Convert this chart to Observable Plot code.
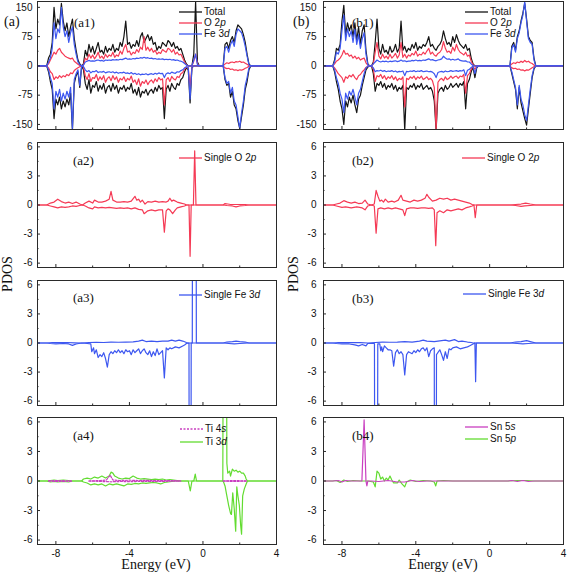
<!DOCTYPE html>
<html><head><meta charset="utf-8">
<script src="https://cdn.jsdelivr.net/npm/d3@7"></script>
<script src="https://cdn.jsdelivr.net/npm/@observablehq/plot@0.6"></script>
<style>
body{margin:0;background:#fff;}
#fig{position:relative;width:567px;height:575px;overflow:hidden;background:#fff;font-family:"Liberation Sans",Arial,sans-serif;}
.lab{position:absolute;font-family:"Liberation Serif","Times New Roman",serif;color:#111;white-space:nowrap;line-height:1;}
.leg{position:absolute;display:flex;align-items:center;font-size:10px;height:12px;line-height:12px;white-space:nowrap;color:#111;}
#fig .leg svg.sw{position:static;display:block;margin-right:2px;flex:none;}
</style></head><body><div id="fig"></div>
<script>
// ---------- shared energy grid for (a1) and (b1) ----------
const gridE = [
-9,
-8.5,-8.4,-8.3,-8.2,-8.1,-8.0,-7.9,-7.8,-7.7,-7.6,
-7.5,-7.4,-7.3,-7.2,-7.1,-7.0,-6.9,-6.8,-6.7,-6.6,
-6.5,-6.4,-6.3,-6.2,-6.1,-6.0,-5.9,-5.8,-5.7,-5.6,
-5.5,-5.4,-5.3,-5.2,-5.1,-5.0,-4.9,-4.8,-4.7,-4.6,
-4.5,-4.4,-4.3,-4.2,-4.1,-4.0,-3.9,-3.8,-3.7,-3.6,
-3.5,-3.4,-3.3,-3.2,-3.1,-3.0,-2.9,-2.8,-2.7,-2.6,
-2.5,-2.4,-2.3,-2.2,-2.1,-2.0,-1.9,-1.8,-1.7,-1.6,
-1.5,-1.4,-1.3,-1.2,-1.1,-1.0,-0.9,-0.8,-0.7,-0.6,
-0.5,-0.4,-0.3,-0.2,
1.0,1.1,1.2,1.3,1.4,1.5,1.6,1.7,1.8,1.9,
2.0,2.1,2.2,2.3,2.4,2.5,2.6,
4];

// ---------- (a1) ----------
const a1TotalUp = [0,
0,20,30,60,150,95,120,105,160,115,
90,110,75,100,120,70,40,15,5,0,
5,40,25,55,35,50,30,45,60,35,
40,30,50,35,45,40,55,35,45,40,
60,50,75,115,55,60,45,55,50,65,
50,75,85,60,70,80,65,75,55,60,
40,50,45,60,55,50,65,60,50,60,
45,50,40,45,30,15,5,0,0,0,
30,165,10,0,
0,0,55,60,45,65,75,60,90,105,
100,95,80,60,30,5,0,
0];
const a1TotalDn = [0,
0,-15,-40,-60,-135,-85,-100,-80,-110,-90,
-105,-85,-100,-70,-165,-45,-25,-15,-55,0,
-10,-45,-60,-35,-70,-50,-55,-40,-65,-50,
-60,-45,-70,-55,-50,-65,-45,-60,-50,-70,
-55,-60,-50,-65,-55,-60,-45,-70,-60,-75,
-55,-80,-65,-70,-60,-75,-65,-60,-70,-55,
-65,-50,-60,-55,-135,-60,-50,-65,-45,-55,
-60,-45,-50,-35,-30,-15,-5,-10,-95,-5,
0,0,0,0,
0,0,-35,-50,-45,-80,-65,-100,-110,-140,
-160,-130,-100,-60,-40,-10,0,
0];
const a1O2pUp = [0,
0,5,15,25,35,30,40,45,35,30,
25,22,20,18,20,12,8,4,1,0,
2,20,15,30,20,28,18,25,35,20,
25,18,30,22,28,25,35,22,28,25,
38,30,45,55,35,38,28,35,32,42,
35,48,42,75,40,48,38,45,35,40,
30,35,32,42,38,35,45,42,35,42,
30,35,28,30,20,10,3,0,0,0,
12,30,5,0,
0,0,5,8,6,9,10,8,11,10,
12,9,10,7,4,1,0,
0];
const a1O2pDn = [0,
0,-5,-15,-20,-35,-28,-32,-25,-30,-25,
-28,-22,-25,-18,-20,-12,-8,-5,-2,0,
-3,-25,-35,-20,-40,-30,-32,-22,-38,-28,
-35,-25,-42,-32,-28,-38,-25,-35,-28,-42,
-32,-36,-28,-40,-32,-36,-26,-42,-36,-48,
-33,-52,-40,-45,-36,-48,-40,-36,-44,-33,
-40,-30,-36,-33,-100,-36,-30,-40,-27,-33,
-36,-27,-30,-20,-17,-8,-3,-5,-55,-2,
0,0,0,0,
0,0,-5,-7,-6,-9,-8,-11,-10,-12,
-10,-11,-9,-6,-4,-1,0,
0];
const a1FeUp = [0,
0,10,20,45,110,70,95,85,150,100,
75,90,60,85,100,55,30,10,3,0,
2,10,12,14,12,13,12,14,15,13,
14,12,15,14,15,14,16,15,16,15,
17,16,18,20,17,18,17,19,18,20,
19,21,20,22,20,21,19,20,18,19,
17,18,17,18,16,17,16,17,15,16,
14,15,13,12,10,6,2,0,0,0,
15,30,3,0,
0,0,45,50,35,55,65,50,80,95,
90,85,70,50,25,3,0,
0];
const a1FeDn = [0,
0,-10,-30,-45,-110,-65,-80,-60,-90,-70,
-85,-65,-80,-55,-160,-35,-20,-10,-50,0,
-2,-10,-15,-12,-18,-14,-15,-12,-17,-15,
-16,-14,-18,-16,-15,-17,-15,-18,-16,-19,
-17,-18,-16,-19,-18,-20,-17,-21,-19,-22,
-20,-23,-21,-22,-20,-23,-21,-20,-22,-19,
-21,-18,-20,-19,-30,-20,-18,-20,-16,-18,
-19,-15,-16,-12,-10,-5,-2,-5,-85,-3,
0,0,0,0,
0,0,-30,-45,-40,-70,-55,-90,-100,-130,
-160,-120,-90,-50,-30,-5,0,
0];

// ---------- (b1) ----------
const b1TotalUp = [0,
0,15,45,40,55,115,155,80,110,90,
105,75,110,65,100,55,90,105,40,5,
0,0,10,60,120,45,30,55,35,40,
30,50,35,40,55,35,45,115,40,50,
35,45,40,55,45,60,40,50,45,55,
50,60,75,50,55,45,40,50,55,65,
90,70,55,60,50,75,60,80,65,55,
50,45,55,40,45,20,5,0,0,0,
0,0,0,0,
0,0,50,60,40,75,90,115,135,160,
120,75,65,60,20,0,0,
0];
const b1TotalDn = [0,
0,-15,-40,-60,-90,-110,-150,-90,-105,-80,
-95,-75,-100,-120,-85,-75,-50,-30,-10,-3,
0,0,-20,-65,-45,-50,-40,-55,-45,-60,
-50,-55,-45,-60,-50,-65,-55,-60,-50,-165,
-55,-60,-50,-55,-45,-60,-50,-55,-45,-60,
-55,-50,-60,-55,-65,-90,-165,-70,-60,-55,
-65,-50,-60,-55,-45,-55,-50,-45,-55,-45,
-50,-40,-110,-45,-35,-15,-3,-30,-5,0,
0,0,0,0,
0,0,-20,-40,-60,-110,-55,-95,-115,-135,
-152,-110,-70,-30,-8,0,0,
0];
const b1O2pUp = [0,
0,5,12,15,20,28,40,30,32,25,
28,20,25,18,22,15,18,20,8,2,
0,0,5,35,60,25,18,30,20,25,
18,30,20,25,32,20,28,60,22,30,
20,28,25,32,28,38,25,30,28,35,
30,38,45,30,35,28,25,32,35,42,
62,45,35,38,32,48,38,55,42,35,
32,28,35,25,28,12,3,0,0,0,
0,0,0,0,
0,0,5,8,6,10,8,12,9,14,
10,12,8,6,2,0,0,
0];
const b1O2pDn = [0,
0,-5,-12,-20,-25,-30,-42,-28,-32,-24,
-28,-22,-30,-35,-25,-22,-15,-10,-4,-1,
0,0,-8,-40,-25,-28,-22,-32,-25,-35,
-28,-32,-25,-35,-28,-38,-32,-35,-28,-105,
-32,-35,-28,-32,-26,-35,-28,-32,-26,-35,
-32,-28,-35,-32,-38,-55,-165,-42,-35,-32,
-38,-28,-35,-32,-26,-32,-28,-26,-32,-26,
-28,-22,-70,-25,-20,-8,-2,-8,-2,0,
0,0,0,0,
0,0,-5,-7,-6,-9,-8,-11,-10,-13,
-10,-11,-8,-5,-2,0,0,
0];
const b1FeUp = [0,
0,10,35,30,45,90,130,65,95,75,
90,60,95,55,80,45,70,85,30,3,
0,0,5,10,15,12,10,12,11,12,
10,12,11,12,13,11,12,15,12,13,
11,12,12,14,13,15,13,14,13,15,
14,16,18,15,16,14,13,15,16,18,
25,20,17,18,15,17,15,16,18,14,
13,12,13,10,10,5,1,0,0,0,
0,0,0,0,
0,0,45,55,35,70,85,110,130,165,
115,70,60,55,15,0,0,
0];
const b1FeDn = [0,
0,-10,-30,-45,-70,-85,-120,-70,-85,-65,
-75,-60,-80,-100,-70,-60,-40,-20,-5,-1,
0,0,-5,-15,-12,-13,-11,-14,-12,-15,
-13,-14,-12,-15,-13,-16,-14,-15,-13,-25,
-14,-15,-13,-14,-12,-15,-13,-14,-12,-15,
-14,-13,-15,-14,-16,-20,-30,-17,-15,-14,
-16,-13,-15,-14,-12,-14,-13,-12,-14,-12,
-13,-10,-25,-11,-9,-4,-1,-20,-3,0,
0,0,0,0,
0,0,-15,-35,-55,-100,-50,-85,-100,-125,
-140,-100,-60,-25,-5,0,0,
0];

// ---------- (a2) single O 2p ----------
const a2Up = [[-9,0],[-8.5,0],[-8.3,0.2],[-8.1,0.3],[-7.9,0.6],[-7.7,0.35],[-7.5,0.2],[-7.3,0.3],[-7.1,0.15],[-6.9,0.3],[-6.7,0.1],[-6.55,0],[-6.4,0.2],[-6.2,0.4],[-6.0,0.2],[-5.9,0.5],[-5.7,0.3],[-5.5,0.3],[-5.3,0.4],[-5.1,0.6],[-5.0,1.4],[-4.9,0.5],[-4.7,0.3],[-4.5,0.3],[-4.3,0.35],[-4.1,0.3],[-3.9,0.4],[-3.7,0.9],[-3.6,0.5],[-3.5,0.6],[-3.4,0.3],[-3.3,0.5],[-3.15,0.1],[-3.0,0.35],[-2.8,0.3],[-2.6,0.4],[-2.4,0.3],[-2.2,0.35],[-2.0,0.3],[-1.9,0.4],[-1.8,0.7],[-1.7,0.4],[-1.6,0.5],[-1.4,0.3],[-1.2,0.2],[-1.0,0.1],[-0.9,0],[-0.52,0],[-0.45,5.6],[-0.38,0],[1.1,0],[1.2,0.15],[1.35,0.1],[1.5,0.05],[1.7,0.05],[2.0,0.05],[2.3,0.05],[2.5,0],[4,0]];
const a2Dn = [[-9,0],[-8.5,0],[-8.3,-0.1],[-8.1,-0.2],[-7.9,-0.3],[-7.7,-0.2],[-7.5,-0.25],[-7.3,-0.2],[-7.1,-0.1],[-6.9,-0.15],[-6.7,-0.05],[-6.55,0],[-6.4,-0.1],[-6.2,-0.3],[-6.0,-0.4],[-5.9,-0.2],[-5.7,-0.3],[-5.5,-0.25],[-5.3,-0.3],[-5.1,-0.25],[-4.9,-0.3],[-4.7,-0.35],[-4.5,-0.3],[-4.3,-0.35],[-4.1,-0.3],[-3.9,-0.4],[-3.7,-0.3],[-3.5,-0.45],[-3.3,-0.5],[-3.2,-0.9],[-3.0,-0.6],[-2.8,-0.5],[-2.6,-0.6],[-2.4,-0.5],[-2.2,-0.5],[-2.1,-2.8],[-2.0,-0.6],[-1.9,-0.4],[-1.8,-0.5],[-1.65,-0.9],[-1.5,-0.5],[-1.4,-0.3],[-1.2,-0.2],[-1.0,-0.1],[-0.9,0],[-0.76,0],[-0.7,-5.3],[-0.64,0],[1.1,0],[1.3,-0.05],[1.6,-0.1],[1.8,-0.2],[2.0,-0.1],[2.3,-0.05],[2.5,0],[4,0]];

// ---------- (b2) single O 2p ----------
const b2Up = [[-9,0],[-8.5,0],[-8.3,0.1],[-8.1,0.2],[-7.9,0.45],[-7.7,0.3],[-7.5,0.2],[-7.3,0.3],[-7.1,0.15],[-6.9,0.2],[-6.75,0.5],[-6.6,0.1],[-6.4,0],[-6.25,0.1],[-6.15,1.5],[-6.05,0.9],[-5.95,0.4],[-5.85,0.5],[-5.75,0.3],[-5.65,0.6],[-5.5,0.3],[-5.3,0.4],[-5.15,0.3],[-4.95,0.5],[-4.8,1.0],[-4.7,0.5],[-4.5,0.4],[-4.3,0.3],[-4.1,0.5],[-3.9,0.4],[-3.7,0.5],[-3.5,0.7],[-3.4,1.1],[-3.3,0.8],[-3.1,0.4],[-2.9,0.5],[-2.7,0.7],[-2.5,0.6],[-2.3,0.7],[-2.1,0.5],[-1.9,0.6],[-1.7,0.5],[-1.5,0.4],[-1.3,0.3],[-1.1,0.2],[-0.95,0.05],[-0.85,0],[1.1,0],[1.4,0.05],[1.7,0.1],[1.95,0.2],[2.2,0.1],[2.5,0],[4,0]];
const b2Dn = [[-9,0],[-8.5,0],[-8.3,-0.1],[-8.0,-0.25],[-7.8,-0.2],[-7.5,-0.3],[-7.2,-0.2],[-6.9,-0.3],[-6.75,-0.5],[-6.6,-0.1],[-6.4,0],[-6.25,-0.1],[-6.15,-2.9],[-6.05,-0.4],[-5.9,-0.3],[-5.7,-0.4],[-5.5,-0.3],[-5.3,-0.4],[-5.1,-0.3],[-4.9,-0.4],[-4.7,-0.5],[-4.6,-1.1],[-4.5,-0.4],[-4.3,-0.3],[-4.1,-0.3],[-3.9,-0.35],[-3.7,-0.3],[-3.5,-0.3],[-3.3,-0.35],[-3.1,-0.3],[-3.0,-0.5],[-2.92,-4.2],[-2.85,-0.8],[-2.7,-0.6],[-2.5,-0.8],[-2.3,-0.5],[-2.1,-0.6],[-1.9,-0.5],[-1.7,-0.4],[-1.5,-0.5],[-1.3,-0.3],[-1.1,-0.2],[-0.95,-0.1],[-0.85,0],[-0.78,-1.3],[-0.7,0],[1.1,0],[1.4,-0.05],[1.7,-0.15],[1.9,-0.1],[2.2,-0.05],[2.5,0],[4,0]];

// ---------- (a3) single Fe 3d ----------
const a3Up = [[-9,0],[-8.5,0],[-8.2,0.05],[-7.8,0.03],[-7.4,0.05],[-7.0,0.02],[-6.6,0],[-6.2,0.05],[-5.8,0.08],[-5.4,0.05],[-5.0,0.1],[-4.6,0.08],[-4.2,0.1],[-3.8,0.12],[-3.5,0.2],[-3.3,0.3],[-3.1,0.15],[-2.8,0.2],[-2.5,0.15],[-2.2,0.2],[-1.9,0.2],[-1.7,0.3],[-1.5,0.2],[-1.3,0.3],[-1.1,0.2],[-0.9,0.05],[-0.8,0],[-0.58,0],[-0.56,30],[-0.38,30],[-0.36,0],[1.1,0],[1.3,0.1],[1.6,0.15],[1.8,0.2],[2.0,0.15],[2.3,0.1],[2.5,0],[4,0]];
const a3Dn = [[-9,0],[-8.5,0],[-8.3,-0.05],[-8.0,-0.1],[-7.6,-0.05],[-7.3,-0.1],[-7.1,-0.25],[-6.9,-0.1],[-6.6,0],[-6.3,-0.05],[-6.1,-0.1],[-6.05,-0.9],[-5.95,-0.5],[-5.9,-1.1],[-5.8,-0.7],[-5.7,-1.5],[-5.6,-1.2],[-5.5,-1.4],[-5.4,-1.0],[-5.3,-1.6],[-5.2,-2.5],[-5.1,-1.2],[-5.0,-0.9],[-4.9,-1.1],[-4.8,-0.8],[-4.7,-1.0],[-4.6,-0.7],[-4.5,-1.0],[-4.4,-0.8],[-4.3,-1.1],[-4.2,-0.7],[-4.1,-0.9],[-4.0,-0.8],[-3.9,-1.2],[-3.8,-0.7],[-3.7,-1.0],[-3.6,-0.8],[-3.5,-0.6],[-3.4,-1.1],[-3.3,-0.8],[-3.2,-0.6],[-3.1,-1.0],[-3.0,-1.2],[-2.9,-0.8],[-2.8,-1.4],[-2.7,-0.9],[-2.6,-1.3],[-2.5,-0.6],[-2.4,-1.2],[-2.3,-1.0],[-2.2,-0.8],[-2.1,-3.6],[-2.0,-0.5],[-1.9,-0.7],[-1.8,-0.5],[-1.7,-0.6],[-1.5,-0.4],[-1.3,-0.5],[-1.1,-0.3],[-1.0,-0.2],[-0.9,-0.05],[-0.76,0],[-0.74,-30],[-0.66,-30],[-0.64,0],[1.1,0],[1.4,-0.05],[1.7,-0.1],[2.0,-0.05],[2.5,0],[4,0]];

// ---------- (b3) single Fe 3d ----------
const b3Up = [[-9,0],[-8.5,0],[-8.2,0.05],[-7.8,0.03],[-7.4,0.05],[-7.0,0.03],[-6.6,0],[-6.2,0.05],[-5.8,0.1],[-5.4,0.08],[-5.0,0.1],[-4.6,0.15],[-4.2,0.1],[-3.8,0.2],[-3.6,0.3],[-3.4,0.2],[-3.0,0.15],[-2.6,0.25],[-2.4,0.3],[-2.2,0.2],[-1.9,0.35],[-1.7,0.15],[-1.5,0.2],[-1.2,0.1],[-1.0,0.05],[-0.9,0],[1.1,0],[1.4,0.1],[1.7,0.15],[2.0,0.25],[2.2,0.15],[2.5,0],[4,0]];
const b3Dn = [[-9,0],[-8.5,0],[-8.3,-0.05],[-8.0,-0.1],[-7.6,-0.1],[-7.3,-0.2],[-7.1,-0.3],[-6.9,-0.15],[-6.7,-0.3],[-6.6,-0.05],[-6.24,-0.05],[-6.21,-30],[-6.09,-30],[-6.06,-0.1],[-5.95,-0.1],[-5.9,-0.8],[-5.85,-0.4],[-5.8,-0.9],[-5.7,-0.3],[-5.6,-0.5],[-5.5,-0.7],[-5.4,-0.7],[-5.3,-0.8],[-5.2,-2.4],[-5.1,-1.0],[-5.0,-0.7],[-4.9,-1.1],[-4.8,-0.9],[-4.7,-1.2],[-4.6,-3.3],[-4.5,-1.2],[-4.4,-0.9],[-4.3,-1.0],[-4.2,-1.1],[-4.1,-0.8],[-4.0,-1.0],[-3.9,-0.7],[-3.8,-0.9],[-3.7,-0.6],[-3.6,-0.5],[-3.5,-0.8],[-3.4,-0.5],[-3.3,-1.4],[-3.2,-0.8],[-3.1,-0.6],[-3.0,-0.5],[-2.98,-30],[-2.9,-30],[-2.88,-1.2],[-2.7,-0.7],[-2.6,-1.2],[-2.5,-1.8],[-2.4,-0.9],[-2.3,-1.6],[-2.2,-0.6],[-2.1,-0.7],[-2.0,-0.5],[-1.8,-0.4],[-1.6,-0.6],[-1.4,-0.5],[-1.2,-0.4],[-1.1,-0.3],[-0.9,-0.1],[-0.8,0],[-0.76,-4.0],[-0.72,0],[1.1,0],[1.5,-0.05],[1.8,-0.1],[2.1,-0.05],[2.5,0],[4,0]];

// ---------- (a4) Ti ----------
const a4Ti3dUp = [[-9,0],[-8.5,0],[-8.3,0.05],[-8.1,0.1],[-7.9,0.05],[-7.6,0.1],[-7.3,0.05],[-7.1,0],[-6.6,0],[-6.5,0.2],[-6.3,0.3],[-6.1,0.2],[-5.9,0.4],[-5.7,0.3],[-5.5,0.5],[-5.3,0.3],[-5.1,0.5],[-5.0,0.9],[-4.9,0.8],[-4.8,0.5],[-4.6,0.3],[-4.4,0.2],[-4.2,0.3],[-4.0,0.25],[-3.8,0.5],[-3.6,0.3],[-3.4,0.2],[-3.2,0.25],[-3.0,0.2],[-2.8,0.15],[-2.6,0.2],[-2.4,0.15],[-2.2,0.2],[-2.0,0.1],[-1.8,0.15],[-1.6,0.1],[-1.4,0.05],[-1.2,0],[-0.5,0],[-0.42,0.7],[-0.35,0],[1.08,0],[1.12,30],[1.26,30],[1.3,1.8],[1.35,0.8],[1.45,1.0],[1.5,0.5],[1.6,1.2],[1.7,1.0],[1.8,1.1],[1.9,0.9],[2.0,1.0],[2.1,0.8],[2.2,0.8],[2.3,0.5],[2.35,0.2],[2.42,0],[4,0]];
const a4Ti3dDn = [[-9,0],[-8.5,0],[-8.3,-0.1],[-8.1,-0.05],[-7.9,-0.1],[-7.6,-0.05],[-7.3,-0.1],[-7.1,0],[-6.6,0],[-6.5,-0.1],[-6.3,-0.2],[-6.1,-0.4],[-5.9,-0.3],[-5.7,-0.4],[-5.5,-0.3],[-5.3,-0.5],[-5.1,-0.3],[-4.9,-0.4],[-4.7,-0.3],[-4.5,-0.4],[-4.3,-0.5],[-4.1,-0.3],[-3.9,-0.35],[-3.7,-0.25],[-3.5,-0.3],[-3.3,-0.2],[-3.1,-0.25],[-2.9,-0.2],[-2.7,-0.15],[-2.5,-0.2],[-2.3,-0.3],[-2.1,-0.15],[-1.9,-0.1],[-1.7,-0.05],[-1.5,0],[-0.8,0],[-0.69,-1.0],[-0.6,0],[1.1,0],[1.2,-0.5],[1.3,-1.5],[1.4,-2.5],[1.5,-3.3],[1.55,-3.4],[1.62,-1.2],[1.7,-2.8],[1.78,-5.1],[1.84,-0.6],[1.9,-1.5],[1.98,-2.5],[2.05,-4.5],[2.1,-5.4],[2.16,-1.5],[2.25,-0.8],[2.35,-0.3],[2.42,0],[4,0]];
const a4Ti4sUp = [[-8.4,0.02],[-8.0,0.05],[-7.5,0.02],[-7.1,0],[-7.0,null],[-6.2,0],[-5.6,0.05],[-5.25,0.1],[-5.05,0.6],[-4.9,0.1],[-4.5,0.05],[-4.0,0.08],[-3.5,0.05],[-3.0,0.06],[-2.5,0.04],[-2.0,0.05],[-1.5,0.03],[-1.2,0],[-1.0,null],[1.1,0],[1.5,0.03],[2.0,0.03],[2.4,0]];
const a4Ti4sDn = [[-8.4,0],[-8.0,-0.05],[-7.5,-0.03],[-7.1,0],[-7.0,null],[-6.2,0],[-5.5,-0.05],[-5.0,-0.08],[-4.5,-0.05],[-4.0,-0.06],[-3.5,-0.05],[-3.0,-0.04],[-2.5,-0.05],[-2.0,-0.03],[-1.5,-0.02],[-1.2,0],[-1.0,null],[1.1,0],[1.5,-0.03],[2.0,-0.03],[2.4,0]];

// ---------- (b4) Sn ----------
const b4Sn5s = [[-9,0],[-8.5,0],[-8.2,0.05],[-8.0,-0.1],[-7.8,0.05],[-7.5,0],[-6.92,0],[-6.8,6.2],[-6.7,0],[-6.65,-0.5],[-6.6,0],[-6.4,0],[-6.0,-0.05],[-5.5,0.05],[-5.0,-0.1],[-4.6,-0.1],[-4.2,0.05],[-3.8,-0.05],[-3.4,0],[1.0,0],[1.2,0.05],[1.5,-0.05],[1.8,0.05],[2.1,-0.05],[2.4,0],[4,0]];
const b4Sn5p = [[-9,0],[-8.5,0],[-8.3,0.05],[-8.1,-0.15],[-7.9,0.1],[-7.7,-0.05],[-7.4,0.05],[-7.0,0],[-6.6,0],[-6.3,-0.1],[-6.2,-0.6],[-6.1,1.0],[-6.0,0.8],[-5.9,0.2],[-5.8,0.4],[-5.7,0],[-5.6,0.3],[-5.5,0.1],[-5.4,0.5],[-5.3,0.1],[-5.2,-0.2],[-5.0,-0.2],[-4.9,0.1],[-4.75,-0.3],[-4.6,-0.6],[-4.5,-0.1],[-4.3,0.1],[-4.0,-0.05],[-3.6,0.05],[-3.2,0],[-3.0,-0.1],[-2.92,-0.5],[-2.85,0],[-2.5,0.05],[-2.0,0],[1.0,0],[1.5,0.05],[2.0,0.05],[2.4,0],[4,0]];

// ---------- ticks ----------
const xMajor = [-8, -4, 0, 4];
const xMinor = [-6, -2, 2];
const yMajorBig = [-150, -75, 0, 75, 150];
const yMinorBig = [-112.5, -37.5, 37.5, 112.5];
const yMajorSmall = [-6, -3, 0, 3, 6];
const yMinorSmall = [-4.5, -1.5, 1.5, 4.5];

// ---------- colours ----------
const cTotal = "#141414", cO = "#f53a55", cFe = "#3d57f0", cGreen = "#62dc30", cMag = "#c93fc0";

// ---------- layout ----------
const COL = [{left: 0, width: 283, ml: 37, mr: 7, pad: 5}, {left: 283, width: 284, ml: 40, mr: 4, pad: 7}];
const ROW = [{top: 0, mt: 1, h: 128, mb: 4}, {top: 137.5, mt: 4, h: 125, mb: 4}, {top: 276, mt: 4, h: 125, mb: 4}, {top: 412.5, mt: 4, h: 127, mb: 31}];

const fig = document.getElementById("fig");
const onGrid = vals => gridE.map((e, i) => [e, vals[i]]);

function panel(col, row, series) {
  const C = COL[col], R = ROW[row];
  const W = C.width - C.ml - C.mr;
  const big = row === 0;
  const yMajor = big ? yMajorBig : yMajorSmall;
  const yMinor = big ? yMinorBig : yMinorSmall;
  const marks = series.map(s => Plot.line(s.data, {
    x: d => d[0], y: d => d[1], stroke: s.color, strokeWidth: s.w || 1.2,
    strokeDasharray: s.dash, clip: true
  }));
  marks.push(Plot.frame({stroke: "#2a2a2a", strokeWidth: 1}));
  marks.push(Plot.tickY(yMajor, {y: d => d, insetRight: W - 3, stroke: "#2a2a2a"}));
  marks.push(Plot.tickY(yMinor, {y: d => d, insetRight: W - 1.5, stroke: "#2a2a2a"}));
  marks.push(Plot.tickX(xMajor, {x: d => d, insetTop: R.h - 3, stroke: "#2a2a2a"}));
  marks.push(Plot.tickX(xMinor, {x: d => d, insetTop: R.h - 1.5, stroke: "#2a2a2a"}));
  marks.push(Plot.axisY(yMajor, {tickSize: 0, tickPadding: C.pad, tickFormat: d => String(d), label: null}));
  if (row === 3) marks.push(Plot.axisX(xMajor, {tickSize: 0, tickPadding: 5, tickFormat: d => String(d), label: null}));
  const svg = Plot.plot({
    width: C.width, height: R.mt + R.h + R.mb,
    marginLeft: C.ml, marginRight: C.mr, marginTop: R.mt, marginBottom: R.mb,
    x: {domain: [-9, 4], axis: null},
    y: {domain: big ? [-163, 165] : [-6.45, 6.45], axis: null},
    style: {background: "transparent", fontFamily: '"Liberation Sans", Arial, sans-serif', fontSize: "10px", color: "#111", maxWidth: "none", overflow: "visible"},
    marks
  });
  svg.style.position = "absolute";
  svg.style.left = C.left + "px";
  svg.style.top = R.top + "px";
  fig.appendChild(svg);
}

panel(0, 0, [
  {data: onGrid(a1TotalUp), color: cTotal}, {data: onGrid(a1TotalDn), color: cTotal},
  {data: onGrid(a1O2pUp), color: cO}, {data: onGrid(a1O2pDn), color: cO},
  {data: onGrid(a1FeUp), color: cFe}, {data: onGrid(a1FeDn), color: cFe}
]);
panel(1, 0, [
  {data: onGrid(b1TotalUp), color: cTotal}, {data: onGrid(b1TotalDn), color: cTotal},
  {data: onGrid(b1O2pUp), color: cO}, {data: onGrid(b1O2pDn), color: cO},
  {data: onGrid(b1FeUp), color: cFe}, {data: onGrid(b1FeDn), color: cFe}
]);
panel(0, 1, [{data: a2Up, color: cO}, {data: a2Dn, color: cO}]);
panel(1, 1, [{data: b2Up, color: cO}, {data: b2Dn, color: cO}]);
panel(0, 2, [{data: a3Up, color: cFe}, {data: a3Dn, color: cFe}]);
panel(1, 2, [{data: b3Up, color: cFe}, {data: b3Dn, color: cFe}]);
panel(0, 3, [
  {data: a4Ti3dUp, color: cGreen}, {data: a4Ti3dDn, color: cGreen},
  {data: a4Ti4sUp, color: cMag, dash: "2,1.5"}, {data: a4Ti4sDn, color: cMag, dash: "2,1.5"}
]);
panel(1, 3, [{data: b4Sn5p, color: cGreen}, {data: b4Sn5s, color: cMag}]);

// ---------- text overlays ----------
function label(html, x, y, size, anchor) {
  const d = document.createElement("div");
  d.className = "lab";
  d.innerHTML = html;
  d.style.left = x + "px"; d.style.top = y + "px"; d.style.fontSize = size + "px";
  d.style.transform = anchor || "translateY(-50%)";
  fig.appendChild(d);
}
function legend(x, y, color, html, dash) {
  const d = document.createElement("div");
  d.className = "leg";
  d.style.left = x + "px"; d.style.top = (y - 6) + "px";
  d.innerHTML = `<svg class="sw" width="23" height="4"><line x1="0" x2="23" y1="2" y2="2" stroke="${color}" stroke-width="1.3"${dash ? ` stroke-dasharray="${dash}"` : ""}/></svg><span>${html}</span>`;
  fig.appendChild(d);
}

label("(a)", 4, 21.5, 14);
label("(b)", 293, 21.5, 14);
label("(a1)", 74, 21.5, 13); label("(b1)", 352, 21.5, 13);
label("(a2)", 73, 160, 13); label("(b2)", 352, 160, 13);
label("(a3)", 73, 297, 13); label("(b3)", 352, 297.5, 13);
label("(a4)", 73, 435, 13); label("(b4)", 352, 435, 13);
label("PDOS", 7.5, 274, 14, "translate(-50%,-50%) rotate(-90deg)");
label("PDOS", 293.5, 274, 14, "translate(-50%,-50%) rotate(-90deg)");
label("Energy (eV)", 156, 565, 14, "translate(-50%,-50%)");
label("Energy (eV)", 443, 565, 14, "translate(-50%,-50%)");

legend(179, 11.7, cTotal, "Total");
legend(179, 23.3, cO, "O 2<i>p</i>");
legend(179, 34.3, cFe, "Fe 3<i>d</i>");
legend(465, 11.7, cTotal, "Total");
legend(465, 23.3, cO, "O 2<i>p</i>");
legend(465, 34.3, cFe, "Fe 3<i>d</i>");
legend(179, 158.3, cO, "Single O 2<i>p</i>");
legend(462, 158.3, cO, "Single O 2<i>p</i>");
legend(179, 295, cFe, "Single Fe 3<i>d</i>");
legend(463, 294, cFe, "Single Fe 3<i>d</i>");
legend(180, 429, cMag, "Ti 4<i>s</i>", "2,1.5");
legend(180, 441.7, cGreen, "Ti 3<i>d</i>");
legend(465, 426.7, cMag, "Sn 5<i>s</i>");
legend(465, 439.3, cGreen, "Sn 5<i>p</i>");
</script></body></html>
